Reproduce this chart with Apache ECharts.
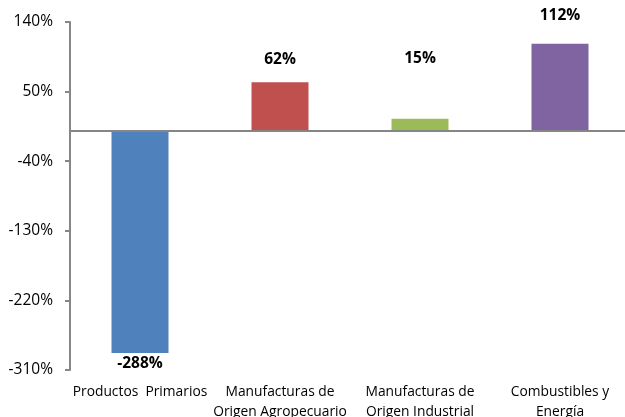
<!DOCTYPE html>
<html>
<head>
<meta charset="utf-8">
<script src="https://cdn.jsdelivr.net/npm/echarts@6/dist/echarts.min.js"></script>
<style>html,body{margin:0;padding:0;background:#fff;}#c{width:625px;height:417px;}</style>
</head>
<body>
<div id="c"></div>
<script>
const categories = ["Productos  Primarios", "Manufacturas de\nOrigen Agropecuario", "Manufacturas de\nOrigen Industrial", "Combustibles y\nEnergía"];
const values = [-288, 62, 15, 112];
const colors = ["#4F81BD", "#C0504D", "#9BBB59", "#8064A2"];
const yTicks = [-310, -220, -130, -40, 50, 140];
const labelDistances = [3, 15, 52, 20];

const font = "'Open Sans', 'Noto Sans', sans-serif";
const chart = echarts.init(document.getElementById('c'));
chart.setOption({
  animation: false,
  grid: { left: 70, right: -5, top: 22, bottom: 47, containLabel: false, outerBoundsMode: 'none' },
  xAxis: {
    type: 'category',
    data: categories,
    axisLine: { show: false },
    axisTick: { show: false },
    axisLabel: { color: '#000', fontFamily: font, fontSize: 13.8, lineHeight: 20, margin: 12, interval: 0 }
  },
  yAxis: {
    type: 'value',
    min: -310,
    max: 140,
    splitLine: { show: false },
    axisLine: { show: true, lineStyle: { color: '#868686', width: 2 } },
    axisTick: { show: true, length: 5, lineStyle: { color: '#868686', width: 2 }, customValues: yTicks },
    axisLabel: { color: '#000', fontFamily: font, fontSize: 15.5, margin: 17, customValues: yTicks, formatter: v => v + '%' }
  },
  series: [{
    type: 'bar',
    barWidth: 57,
    data: values.map((v, i) => ({
      value: v,
      itemStyle: { color: colors[i] },
      label: { position: v < 0 ? 'bottom' : 'top', distance: labelDistances[i] }
    })),
    label: { show: true, color: '#000', fontWeight: 'bold', fontFamily: font, fontSize: 15.5, formatter: p => p.value + '%' },
    markLine: {
      silent: true,
      symbol: 'none',
      label: { show: false },
      lineStyle: { color: '#868686', width: 2, type: 'solid' },
      data: [{ yAxis: 0 }]
    }
  }]
});
</script>
</body>
</html>
